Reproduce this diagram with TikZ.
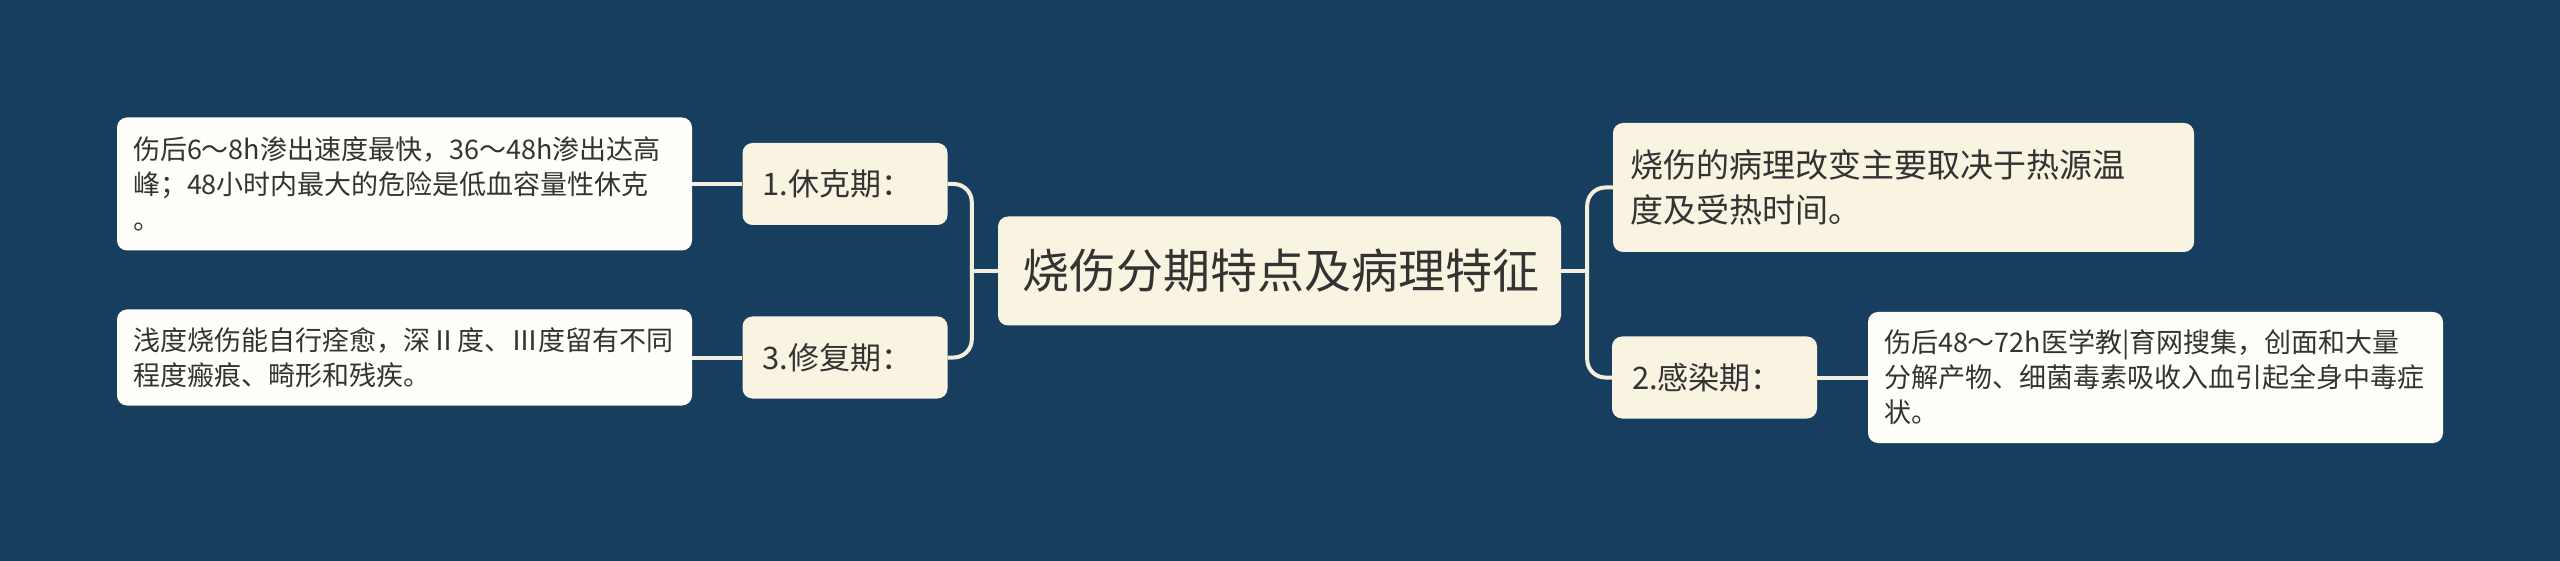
\documentclass[tikz,border=0pt]{standalone}
\usepackage{fontspec}
\setmainfont{Noto Sans CJK SC}
\usepackage{xcolor}
\usetikzlibrary{calc}

\definecolor{bgBlue}{HTML}{173E5F}
\definecolor{topicFill}{HTML}{F8F4E1}
\definecolor{leafFill}{HTML}{FFFEF8}
\definecolor{lineCream}{HTML}{F4EFDC}
\definecolor{inkGray}{HTML}{333333}

\begin{document}
\begin{tikzpicture}[
	x=1pt, y=-1pt,
	box/.style={rounded corners=10pt, inner ysep=0pt, align=left, text=inkGray},
	rootBox/.style={box, fill=topicFill, inner xsep=24pt, text width=515pt, minimum height=109pt, font=\fontsize{47}{56}\selectfont},
	topic/.style={box, fill=topicFill, inner xsep=20pt, text width=165pt, minimum height=82pt, font=\fontsize{31}{40}\selectfont},
	bigTopic/.style={box, fill=topicFill, inner xsep=17pt, text width=547pt, minimum height=129pt, font=\fontsize{33}{45}\selectfont},
	leaf/.style={box, fill=leafFill, inner xsep=16pt, text width=543pt, font=\fontsize{27}{35}\selectfont},
	link/.style={draw=lineCream, line width=4pt, rounded corners=18pt}
	]
	
	\useasboundingbox (0,0) rectangle (2560,561);
	\fill[bgBlue] (0,0) rectangle (2560,561);
	
	% centre
	\node [rootBox] (root) at (1279.5, 271) {烧伤分期特点及病理特征};
	
	% left side
	\node [topic] (shock) at (845, 184) {1.休克期：};
	\node [topic] (repair) at (845, 357.5) {3.修复期：};
	\node [leaf, minimum height=133pt] (shockTxt) at (404.5, 184) {伤后6～8h渗出速度最快，36～48h渗出达高\\峰；48小时内最大的危险是低血容量性休克\\。};
	\node [leaf, minimum height=96pt] (repairTxt) at (404.5, 357.5) {浅度烧伤能自行痊愈，深Ⅱ度、Ⅲ度留有不同\\程度瘢痕、畸形和残疾。};
	
	% right side
	\node [bigTopic] (cause) at (1903.5, 187.5) {烧伤的病理改变主要取决于热源温\\度及受热时间。};
	\node [topic] (infect) at (1714.5, 377.5) {2.感染期：};
	\node [leaf, minimum height=131pt] (infectTxt) at (2155.5, 377.5) {伤后48～72h医学教|育网搜集，创面和大量\\分解产物、细菌毒素吸收入血引起全身中毒症\\状。};
	
	% connectors
	\coordinate (lj) at ($(root.west) + (-26, 0)$);
	\coordinate (rj) at ($(root.east) + (26, 0)$);
	\draw[link] (root.west) -- (lj);
	\draw[link] (shock.east) -| (lj) |- (repair.east);
	\draw[link] (root.east) -- (rj);
	\draw[link] (cause.west) -| (rj) |- (infect.west);
	
	\draw[link] (shockTxt.east) -- (shock.west);
	\draw[link] (repairTxt.east) -- (repair.west);
	\draw[link] (infect.east) -- (infectTxt.west);
\end{tikzpicture}
\end{document}
